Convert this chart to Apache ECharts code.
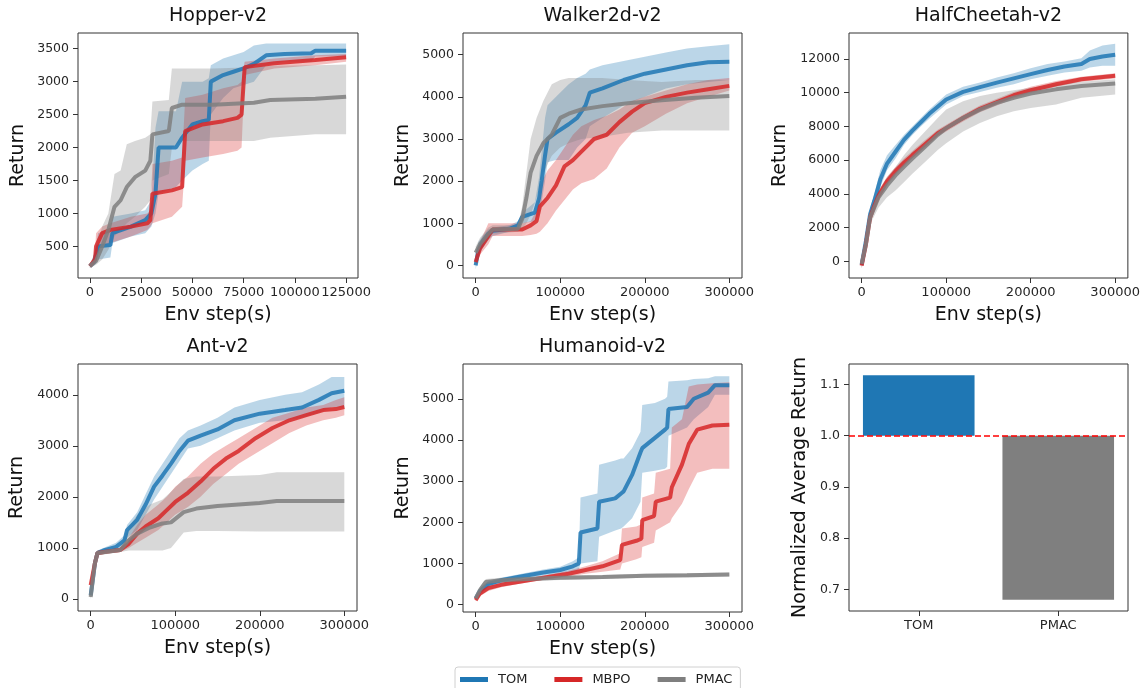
<!DOCTYPE html>
<html><head><meta charset="utf-8">
<script src="https://cdn.jsdelivr.net/npm/echarts@6/dist/echarts.min.js"></script>
<style>html,body{margin:0;padding:0;background:#fff}#c{width:1143px;height:688px}</style>
</head><body><div id="c"></div>
<script>
// ---- data: each row = [env step, lower, mean, upper] ----
const hopperTOM = [[0,180,200,230],[2000,220,260,300],[4000,300,500,700],[10000,330,520,760],[11000,550,700,950],[20000,650,800,1000],[27000,700,900,1050],[30000,800,1000,1200],[32000,1000,1300,2300],[33500,1300,2000,2550],[42000,1400,2000,2550],[45000,1500,2150,3000],[50000,1650,2350,3000],[55000,1750,2400,3000],[58000,1800,2420,3050],[59000,2500,3000,3250],[65000,2750,3100,3350],[70000,2900,3150,3400],[75000,2950,3200,3450],[80000,3000,3270,3550],[86000,3250,3400,3580],[95000,3300,3420,3580],[108000,3300,3430,3580],[110000,3380,3470,3580],[125000,3380,3470,3580]];
const hopperMBPO = [[0,170,200,230],[2500,250,300,400],[3000,350,500,700],[6000,500,700,800],[10000,550,750,850],[20000,650,800,950],[28000,750,850,1000],[29500,800,900,1050],[30500,850,1300,1750],[40000,950,1350,1800],[45000,1100,1400,1850],[46500,1800,2250,2750],[55000,1850,2350,2800],[65000,1900,2400,2900],[72000,1950,2450,2950],[74000,2000,2500,3000],[75500,3100,3220,3300],[90000,3200,3280,3350],[110000,3250,3330,3400],[125000,3300,3370,3420]];
const hopperPMAC = [[0,170,200,230],[3000,220,280,450],[6000,300,500,800],[9000,450,750,1000],[12000,650,1100,1600],[15000,750,1200,1650],[18000,850,1400,2050],[22000,950,1550,2100],[27000,1100,1650,2150],[29500,1200,1800,2200],[30500,1500,2200,2700],[38500,1600,2250,2720],[40000,2000,2600,3200],[45000,2100,2650,3200],[60000,2100,2650,3200],[80000,2100,2680,3220],[88000,2150,2720,3240],[110000,2200,2740,3250],[125000,2200,2770,3260]];

const walkerTOM = [[0,-100,0,150],[3000,200,350,550],[8000,400,550,700],[15000,600,750,850],[20000,700,820,900],[40000,800,870,950],[50000,850,950,1050],[55000,1000,1150,1250],[70000,1050,1250,1500],[75000,1200,1600,2100],[78000,1500,2000,2700],[82000,2000,2600,3500],[85000,2450,3000,3800],[95000,2500,3150,4000],[110000,2500,3350,4300],[120000,2800,3500,4450],[130000,3000,3800,4550],[135000,3300,4100,4650],[150000,3500,4200,4750],[175000,3800,4400,4850],[200000,4000,4550,4950],[225000,4200,4650,5050],[250000,4300,4750,5150],[275000,4350,4820,5200],[300000,4400,4830,5250]];
const walkerMBPO = [[0,0,80,200],[5000,250,400,550],[15000,500,700,1000],[20000,700,850,1000],[55000,700,850,1000],[65000,720,950,1050],[72000,750,1050,1300],[76000,800,1400,1900],[85000,1000,1600,2250],[95000,1300,1900,2500],[105000,1550,2350,2800],[115000,1800,2500,3100],[125000,1950,2700,3300],[140000,2050,3000,3450],[155000,2300,3100,3550],[170000,2800,3400,3700],[185000,3150,3650,3900],[200000,3300,3850,4000],[225000,3600,4000,4150],[250000,3850,4100,4300],[275000,4000,4180,4400],[300000,4150,4260,4450]];
const walkerPMAC = [[0,150,300,450],[5000,350,500,650],[15000,600,750,900],[20000,750,850,950],[50000,800,870,950],[55000,850,1100,1400],[60000,1000,1600,2200],[65000,1200,2200,3000],[72000,1600,2600,3500],[80000,2200,2900,3900],[90000,2600,3100,4300],[100000,2800,3500,4400],[110000,2900,3600,4450],[125000,3000,3700,4450],[150000,3050,3780,4450],[180000,3150,3850,4400],[220000,3200,3920,4350],[260000,3200,3980,4400],[300000,3200,4020,4400]];

const cheetahTOM = [[0,-400,-200,0],[5000,600,1200,1800],[10000,2400,2800,3200],[15000,3300,3600,4000],[22000,4400,4850,5400],[30000,5400,5800,6300],[40000,6100,6500,6900],[50000,6900,7200,7500],[60000,7500,7750,8000],[70000,8000,8250,8500],[80000,8450,8750,9000],[100000,9300,9600,9900],[120000,9800,10050,10350],[140000,10050,10330,10600],[160000,10300,10600,10900],[180000,10500,10850,11150],[200000,10800,11100,11450],[220000,11000,11350,11700],[240000,11200,11550,11850],[260000,11300,11700,12050],[270000,11500,12000,12500],[285000,11600,12150,12800],[300000,11600,12250,12900]];
const cheetahMBPO = [[0,-400,-250,-100],[5000,700,1000,1400],[10000,2300,2600,2900],[15000,3000,3300,3600],[20000,3700,3900,4200],[30000,4500,4750,5000],[40000,5100,5350,5600],[50000,5600,5850,6100],[60000,6100,6300,6550],[75000,6700,6950,7200],[90000,7400,7600,7800],[100000,7700,7900,8100],[120000,8300,8500,8700],[140000,8850,9050,9250],[160000,9250,9450,9650],[180000,9650,9850,10050],[200000,9950,10150,10350],[230000,10350,10500,10700],[260000,10650,10800,10950],[300000,10850,11000,11150]];
const cheetahPMAC = [[0,-300,-150,0],[5000,700,1000,1300],[10000,2200,2600,3000],[15000,2700,3200,3600],[20000,3200,3800,4200],[30000,3800,4500,5000],[40000,4200,5100,5600],[50000,4700,5600,6300],[60000,5200,6100,6900],[75000,5900,6800,7700],[90000,6600,7500,8500],[100000,7000,7900,9000],[120000,7700,8500,9500],[140000,8200,9000,9800],[160000,8600,9400,10000],[180000,8900,9700,10150],[200000,9100,9950,10300],[230000,9300,10200,10500],[260000,9700,10400,10650],[300000,9900,10550,10800]];

const antTOM = [[0,0,70,150],[5000,600,700,800],[8000,850,900,950],[15000,900,950,1000],[30000,950,1020,1100],[40000,1000,1150,1250],[43000,1200,1350,1450],[55000,1350,1550,1700],[65000,1650,1850,2050],[75000,1950,2200,2400],[85000,2200,2420,2650],[95000,2450,2650,2900],[105000,2700,2900,3150],[115000,2950,3100,3300],[130000,3000,3200,3400],[150000,3150,3320,3550],[170000,3300,3500,3750],[200000,3450,3630,3900],[230000,3500,3700,4000],[250000,3550,3750,4050],[270000,3650,3900,4200],[285000,3750,4030,4350],[300000,3750,4080,4350]];
const antMBPO = [[0,250,270,290],[5000,600,700,800],[8000,850,900,950],[20000,900,930,970],[35000,920,960,1000],[45000,1000,1080,1200],[55000,1100,1280,1450],[65000,1200,1420,1650],[80000,1350,1580,1850],[90000,1500,1740,2000],[100000,1650,1900,2200],[115000,1800,2080,2400],[130000,2000,2300,2650],[145000,2250,2550,2850],[160000,2450,2750,3000],[175000,2650,2900,3150],[195000,2850,3150,3350],[215000,3050,3350,3550],[235000,3250,3500,3650],[255000,3400,3600,3750],[275000,3500,3700,3800],[290000,3550,3720,3900],[300000,3600,3760,3950]];
const antPMAC = [[0,0,40,100],[5000,600,700,800],[8000,850,900,950],[35000,920,960,1000],[45000,950,1150,1400],[55000,950,1280,1650],[70000,950,1400,1850],[85000,950,1480,1950],[95000,1000,1500,2100],[110000,1300,1700,2350],[125000,1330,1770,2400],[150000,1330,1820,2400],[200000,1320,1880,2430],[220000,1320,1920,2480],[300000,1320,1920,2480]];

const humTOM = [[0,100,150,200],[5000,250,330,400],[15000,420,500,580],[30000,520,590,650],[50000,600,670,730],[80000,700,780,850],[100000,750,840,920],[115000,800,930,1050],[122000,850,1000,1150],[124000,1000,1750,2600],[144000,1050,1850,2700],[146000,1650,2500,3400],[165000,1800,2580,3500],[172000,1850,2700,3550],[175000,1900,2750,3550],[185000,2100,3150,3800],[195000,2500,3700,4200],[197000,3200,3800,4850],[212000,3250,4050,4900],[224000,3300,4250,5000],[226500,3350,4300,5050],[228000,4100,4750,5420],[250000,4300,4800,5450],[258000,4500,5000,5480],[275000,4800,5150,5500],[283000,5100,5330,5550],[300000,5100,5330,5550]];
const humMBPO = [[0,80,110,150],[5000,200,270,330],[15000,330,400,460],[30000,420,480,530],[50000,500,550,600],[80000,600,650,700],[110000,680,750,820],[130000,750,840,930],[150000,800,930,1050],[171000,850,1080,1250],[173000,1000,1450,1850],[190000,1100,1550,1900],[196000,1150,1600,1950],[197000,1400,2050,2600],[211000,1500,2150,2700],[213000,1800,2500,3200],[230000,2000,2600,3300],[232000,2100,2850,4300],[244000,2450,3400,4500],[252000,2800,3900,5300],[262000,3200,4250,5350],[280000,3300,4350,5380],[300000,3300,4370,5400]];
const humPMAC = [[0,100,150,200],[5000,280,350,420],[12000,480,550,620],[30000,530,590,650],[60000,570,620,670],[100000,600,650,700],[150000,620,670,720],[200000,650,700,750],[250000,660,710,760],[300000,680,730,780]];

const barCategories = ['TOM', 'PMAC'];
const barValues = [1.118, 0.68];
const barBaseline = 1.0;

const methodNames = ['TOM', 'MBPO', 'PMAC'];
const hopperXTicks = [0, 25000, 50000, 75000, 100000, 125000];
const stepXTicks = [0, 100000, 200000, 300000];
const hopperYTicks = [500, 1000, 1500, 2000, 2500, 3000, 3500];
const walkerYTicks = [0, 1000, 2000, 3000, 4000, 5000];
const cheetahYTicks = [0, 2000, 4000, 6000, 8000, 10000, 12000];
const antYTicks = [0, 1000, 2000, 3000, 4000];
const humYTicks = [0, 1000, 2000, 3000, 4000, 5000];
const barYTicks = [0.7, 0.8, 0.9, 1.0, 1.1];

// ---- styling / layout ----
const FONT = 'DejaVu Sans';
const COLORS = {TOM: '#1f77b4', MBPO: '#d62728', PMAC: '#7f7f7f'};
const panels = [
  {title: 'Hopper-v2', grid: {left: 78, top: 33, width: 280, height: 245}, x: [-5800, 130800], xt: hopperXTicks, y: [20, 3738], yt: hopperYTicks, yGap: 50, data: [hopperTOM, hopperMBPO, hopperPMAC]},
  {title: 'Walker2d-v2', grid: {left: 463, top: 33, width: 279, height: 245}, x: [-15000, 315000], xt: stepXTicks, y: [-299, 5515], yt: walkerYTicks, yGap: 50, data: [walkerTOM, walkerMBPO, walkerPMAC]},
  {title: 'HalfCheetah-v2', grid: {left: 849, top: 33, width: 279, height: 245}, x: [-15000, 315000], xt: stepXTicks, y: [-984, 13541], yt: cheetahYTicks, yGap: 59, data: [cheetahTOM, cheetahMBPO, cheetahPMAC]},
  {title: 'Ant-v2', grid: {left: 78, top: 364, width: 279, height: 247}, x: [-15000, 315000], xt: stepXTicks, y: [-236, 4603], yt: antYTicks, yGap: 51, data: [antTOM, antMBPO, antPMAC]},
  {title: 'Humanoid-v2', grid: {left: 463, top: 364, width: 279, height: 248}, x: [-15000, 315000], xt: stepXTicks, y: [-180, 5845], yt: humYTicks, yGap: 50, data: [humTOM, humMBPO, humPMAC]}
];
const barGrid = {left: 849, top: 364, width: 279, height: 247};

const grids = [], xAxes = [], yAxes = [], titles = [], series = [];
const tickLabelX = {fontFamily: FONT, fontSize: 13, color: '#262626', margin: 8};
const tickLabelY = {fontFamily: FONT, fontSize: 12.5, color: '#262626', margin: 9};
const nameStyle = {fontFamily: FONT, fontSize: 19, color: '#111'};

function valueAxis(min, max, ticks, labelStyle, fmt) {
  return {
    type: 'value', min: min, max: max,
    splitLine: {show: false},
    axisLine: {show: false, onZero: false},
    axisTick: {show: true, length: 5, lineStyle: {color: '#333'}, customValues: ticks},
    axisLabel: Object.assign({customValues: ticks, formatter: fmt}, labelStyle)
  };
}

panels.forEach(function (p, i) {
  grids.push(Object.assign({show: true, borderColor: '#333', borderWidth: 1, backgroundColor: 'transparent'}, p.grid));
  titles.push({text: p.title, left: p.grid.left + p.grid.width / 2, top: p.grid.top - 26, textAlign: 'center', padding: 0,
    textStyle: {fontFamily: FONT, fontSize: 19, fontWeight: 'normal', color: '#111'}});
  const xa = valueAxis(p.x[0], p.x[1], p.xt, tickLabelX, function (v) { return String(v); });
  Object.assign(xa, {gridIndex: i, name: 'Env step(s)', nameLocation: 'middle', nameGap: 28, nameTextStyle: nameStyle});
  xAxes.push(xa);
  const ya = valueAxis(p.y[0], p.y[1], p.yt, tickLabelY, function (v) { return String(v); });
  Object.assign(ya, {gridIndex: i, name: 'Return', nameLocation: 'middle', nameGap: p.yGap, nameTextStyle: nameStyle});
  yAxes.push(ya);
  // shaded bands (lower..upper), drawn as one polygon through the axes' scales
  p.data.forEach(function (arr, k) {
    const col = COLORS[methodNames[k]];
    series.push({
      type: 'custom', name: methodNames[k] + ' band', xAxisIndex: i, yAxisIndex: i, z: 1, silent: true, clip: true,
      data: arr.map(function (d) { return [d[0], d[1], d[3]]; }),
      encode: {x: 0, y: [1, 2]},
      renderItem: function (params, api) {
        if (params.dataIndex !== 0) return null;
        const pts = [];
        for (let j = 0; j < arr.length; j++) pts.push(api.coord([arr[j][0], arr[j][3]]));
        for (let j = arr.length - 1; j >= 0; j--) pts.push(api.coord([arr[j][0], arr[j][1]]));
        return {type: 'polygon', shape: {points: pts}, style: {fill: col, opacity: 0.3}};
      }
    });
  });
  // mean lines
  p.data.forEach(function (arr, k) {
    const col = COLORS[methodNames[k]];
    series.push({
      type: 'line', name: methodNames[k], xAxisIndex: i, yAxisIndex: i, z: 3,
      data: arr.map(function (d) { return [d[0], d[2]]; }),
      symbol: 'none', showSymbol: false,
      lineStyle: {color: col, width: 4, opacity: 0.85},
      itemStyle: {color: col}
    });
  });
});

// bar panel
const bi = panels.length;
grids.push(Object.assign({show: true, borderColor: '#333', borderWidth: 1, backgroundColor: 'transparent'}, barGrid));
xAxes.push({type: 'category', gridIndex: bi, data: barCategories,
  axisLine: {show: false}, splitLine: {show: false},
  axisTick: {show: true, alignWithLabel: true, length: 5, lineStyle: {color: '#333'}},
  axisLabel: Object.assign({}, tickLabelX)});
const yb = valueAxis(0.658, 1.140, barYTicks, tickLabelY, function (v) { return v.toFixed(1); });
Object.assign(yb, {gridIndex: bi, name: 'Normalized Average Return', nameLocation: 'middle', nameGap: 39, nameTextStyle: nameStyle});
yAxes.push(yb);
series.push({type: 'bar', name: 'barBase', xAxisIndex: bi, yAxisIndex: bi, stack: 'nb', silent: true,
  data: barValues.map(function (v) { return Math.min(v, barBaseline); }),
  itemStyle: {color: 'rgba(0,0,0,0)'}});
series.push({type: 'bar', name: 'barVal', xAxisIndex: bi, yAxisIndex: bi, stack: 'nb', barWidth: '80%', silent: true,
  data: barValues.map(function (v, j) { return {value: Math.abs(v - barBaseline), itemStyle: {color: COLORS[barCategories[j]]}}; }),
  markLine: {silent: true, symbol: ['none', 'none'], label: {show: false}, z: 5,
    lineStyle: {color: '#ff0000', type: [6, 3], width: 1.6}, data: [{yAxis: barBaseline}]}});

const option = {
  animation: false,
  backgroundColor: '#fff',
  title: titles,
  grid: grids, xAxis: xAxes, yAxis: yAxes, series: series,
  legend: {
    left: 455, top: 667, orient: 'horizontal',
    data: methodNames.map(function (n) { return {name: n, icon: 'rect', itemStyle: {color: COLORS[n]}}; }),
    itemWidth: 28, itemHeight: 5, itemGap: 27,
    padding: [6, 8, 14, 5],
    borderColor: '#d0d0d0', borderWidth: 1, borderRadius: 3, backgroundColor: '#fff',
    textStyle: {fontFamily: FONT, fontSize: 13, color: '#222', padding: [0, 0, 0, 5]}
  }
};
const chart = echarts.init(document.getElementById('c'));
chart.setOption(option);
</script></body></html>
